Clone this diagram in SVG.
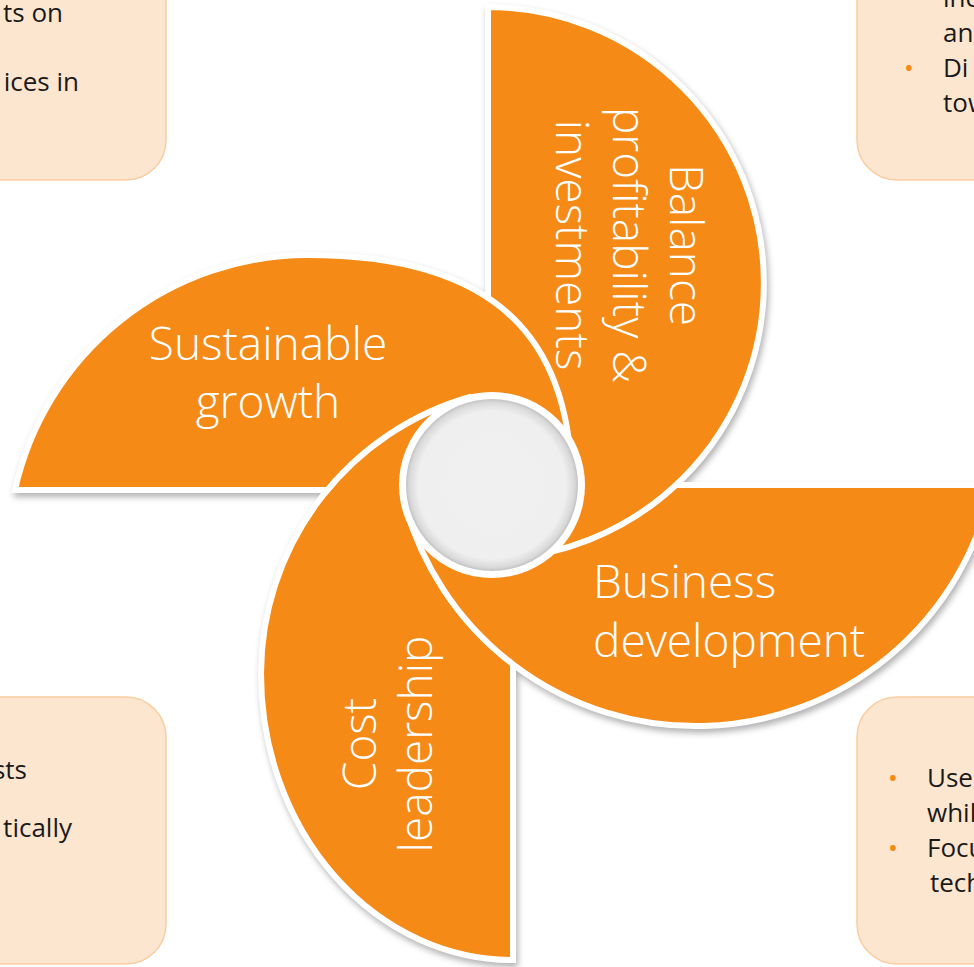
<svg xmlns="http://www.w3.org/2000/svg" xmlns:xlink="http://www.w3.org/1999/xlink" width="974" height="967" viewBox="0 0 974 967">
<style>
.box{fill:#FDE6D0;stroke:#F9CDA0;stroke-width:1.5}
.petal{fill:#F58A17;stroke:#FFFFFF;stroke-width:6;stroke-linejoin:miter}
.shadowshape{fill:#000;stroke:#000;stroke-width:6}
.lbl{font-family:"Open Sans","Noto Sans","Liberation Sans",sans-serif;font-weight:300;font-size:46px;fill:#FFFFFF}
.txt{font-family:"Open Sans","Noto Sans","Liberation Sans",sans-serif;font-size:26px;fill:#1A1A1A}
.bul{font-family:"Open Sans","Noto Sans","Liberation Sans",sans-serif;font-size:26px;fill:#F58A17}
</style>
<defs>
<path id="p-sus" d="M 15 490 A 300 300 0 0 1 308 255 C 518 255 572 360 572 490 Z"/>
<path id="p-bal" d="M 488 7 A 276 276 0 0 1 488 559 Z"/>
<path id="p-bus" d="M 991.8 485 A 302 302 0 0 1 403.7 500 L 430 485 Z"/>
<path id="p-cost" d="M 513 960 A 252 286 0 0 1 261 674 A 288 288 0 0 1 470 397 L 513 420 Z"/>
<clipPath id="clipCostTop"><polygon points="0,0 520,0 520,489 406,489 406,497 0,497"/></clipPath>
<filter id="sh" x="-20%" y="-20%" width="140%" height="140%">
<feGaussianBlur in="SourceAlpha" stdDeviation="3" result="b"/>
<feOffset in="b" dx="2" dy="4" result="o"/>
<feFlood flood-color="#000000" flood-opacity="0.3"/>
<feComposite in2="o" operator="in"/>
</filter>
<radialGradient id="cg" cx="50%" cy="50%" r="50%">
<stop offset="0" stop-color="#F0F0F0"/>
<stop offset="0.86" stop-color="#EFEFEF"/>
<stop offset="0.96" stop-color="#D9D9D9"/>
<stop offset="1" stop-color="#C2C2C2"/>
</radialGradient>
</defs>
<rect width="974" height="967" fill="#FFFFFF"/>

<g id="box-top-left">
<rect class="box" x="-60" y="-60" width="226" height="240" rx="40"/>
<text class="txt" x="63" y="22" text-anchor="end">ts on</text>
<text class="txt" x="79" y="91" text-anchor="end">ices in</text>
</g>
<g id="box-top-right">
<rect class="box" x="857" y="-60" width="200" height="240" rx="40"/>
<text class="txt" x="943" y="7">inc</text>
<text class="txt" x="943" y="42">an</text>
<text class="bul" x="904" y="77">•</text>
<text class="txt" x="943" y="77">Di</text>
<text class="txt" x="943" y="112">tow</text>
</g>
<g id="box-bottom-left">
<rect class="box" x="-60" y="697" width="226" height="267" rx="40"/>
<text class="txt" x="27" y="779" text-anchor="end">sts</text>
<text class="txt" x="72" y="837" text-anchor="end">tically</text>
</g>
<g id="box-bottom-right">
<rect class="box" x="857" y="697" width="200" height="267" rx="40"/>
<text class="bul" x="888" y="787">•</text>
<text class="txt" x="927" y="787">Use</text>
<text class="txt" x="927" y="822">whil</text>
<text class="bul" x="888" y="857">•</text>
<text class="txt" x="927" y="857">Focu</text>
<text class="txt" x="930" y="892">tech</text>
</g>

<g id="shadows" filter="url(#sh)">
<use xlink:href="#p-cost" class="shadowshape"/>
<use xlink:href="#p-bus" class="shadowshape"/>
<use xlink:href="#p-bal" class="shadowshape"/>
<use xlink:href="#p-sus" class="shadowshape"/>
</g>

<g id="connectors"></g>

<g id="node-cost">
<use xlink:href="#p-cost" class="petal"/>
<text class="lbl" transform="translate(376,744) rotate(-90)" text-anchor="middle">Cost</text>
<text class="lbl" transform="translate(432,744) rotate(-90)" text-anchor="middle">leadership</text>
</g>
<g id="node-business">
<use xlink:href="#p-bus" class="petal"/>
<text class="lbl" x="593" y="598">Business</text>
<text class="lbl" x="593" y="657">development</text>
</g>
<g id="node-balance">
<use xlink:href="#p-bal" class="petal"/>
<text class="lbl" transform="translate(670,245) rotate(90)" text-anchor="middle">Balance</text>
<text class="lbl" transform="translate(613,245) rotate(90)" text-anchor="middle">profitability &amp;</text>
<text class="lbl" transform="translate(556,245) rotate(90)" text-anchor="middle">investments</text>
</g>
<g id="node-sustainable">
<use xlink:href="#p-sus" class="petal"/>
<text class="lbl" x="268" y="360" text-anchor="middle">Sustainable</text>
<text class="lbl" x="268" y="418" text-anchor="middle">growth</text>
</g>
<g id="node-cost-overlap" clip-path="url(#clipCostTop)">
<use xlink:href="#p-cost" class="petal"/>
</g>
<g id="node-center">
<circle cx="492" cy="485" r="93" fill="#FFFFFF"/>
<circle cx="492" cy="485" r="86" fill="url(#cg)"/>
</g>
</svg>
